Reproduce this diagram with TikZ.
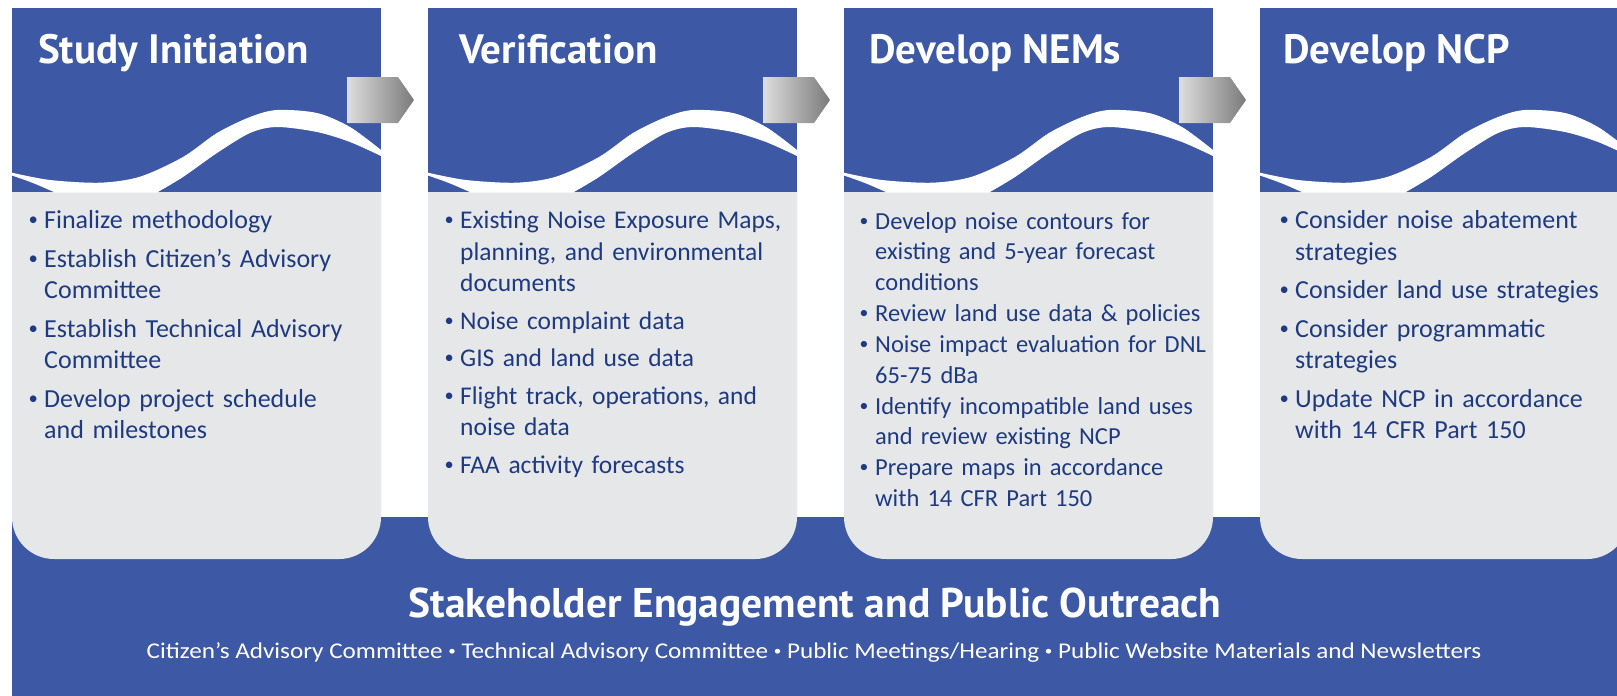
\documentclass[tikz,border=0pt]{standalone}
\usepackage{fontspec}
\setmainfont{Carlito}
\newfontfamily\titlefont{PT Sans}
\definecolor{pblue}{RGB}{61,88,164}
\definecolor{pgray}{RGB}{230,231,233}
\definecolor{ptext}{RGB}{30,58,128}
\newcommand\nl{\newline}
\newcommand\bitem[1]{\par\hangindent=15pt\hangafter=1\noindent\makebox[15pt][l]{\hspace{-0.5pt}\raisebox{0.12em}{\scalebox{0.72}{\textbullet}}}\strut#1\par}
\begin{document}
\begin{tikzpicture}[x=1pt,y=-1pt,
  titlestyle/.style={anchor=base west, inner sep=0pt, text=white, font=\titlefont\bfseries\fontsize{41}{41}\selectfont},
  bodystyle/.style={anchor=north west, inner sep=0pt, text=ptext, text width=400pt, font=\fontsize{26}{31.5}\selectfont},
  midbody/.style={bodystyle, font=\fontsize{25.5}{31.5}\selectfont},
  tightbody/.style={bodystyle, font=\fontsize{24.5}{30.3}\selectfont},
  arrowshape/.style={left color=black!13, right color=black!52, draw=none},
  wavefill/.style={fill=white, draw=none},
  panelblue/.style={fill=pblue, draw=none},
  panelgray/.style={fill=pgray, draw=none, rounded corners=42pt}]
\clip (0,0) rectangle (1617,696);
\fill[white] (0,0) rectangle (1617,696);
% bottom band
\fill[pblue] (12,517) rectangle (1617,696);
% panels
\foreach \px in {12,428,844,1260}{
  \begin{scope}[xshift=\px pt]
    \path[panelgray] (0,150) -- (0,559) -- (369,559) -- (369,150);
    \fill[pgray] (0,150) rectangle (369,300);
    \path[panelblue] (0,8) rectangle (369,192);
    \path[wavefill] plot[smooth] coordinates {(0,172.7) (38,180) (88,182.7) (128,176.7) (171,157) (205,133) (238,117) (265,110) (305,113) (338,127) (369,150)}
      -- plot[smooth] coordinates {(369,156) (338,142) (305,132) (265,127) (238,133) (205,153) (171,177) (145,192.5)}
      -- (43,192.5) -- plot[smooth] coordinates {(43,192.5) (21,183) (0,175.5)} -- cycle;
  \end{scope}
}
% arrows
\foreach \ax in {0,416,832}{
  \begin{scope}[xshift=\ax pt]
    \path[arrowshape] (347,77) -- (398,77) -- (414,100) -- (398,123) -- (347,123) -- cycle;
  \end{scope}
}
% titles
\node[titlestyle] (t1) at (38,63) {Study Initiation};
\node[titlestyle] (t2) at (459,63) {Verification};
\node[titlestyle] (t3) at (869,63) {Develop NEMs};
\node[titlestyle] (t4) at (1283,63) {Develop NCP};
% bodies
\node[bodystyle] (b1) at (29,197) {%
\bitem{Finalize methodology}\vspace{7pt}
\bitem{Establish Citizen’s Advisory\nl Committee}\vspace{7pt}
\bitem{Establish Technical Advisory\nl Committee}\vspace{7pt}
\bitem{Develop project schedule\nl and milestones}};
\node[midbody] (b2) at (445,197) {%
\bitem{Existing Noise Exposure Maps,\nl planning, and environmental\nl documents}\vspace{6pt}
\bitem{Noise complaint data}\vspace{6pt}
\bitem{GIS and land use data}\vspace{6pt}
\bitem{Flight track, operations, and\nl noise data}\vspace{6pt}
\bitem{FAA activity forecasts}};
\node[tightbody] (b3) at (860,199) {%
\bitem{Develop noise contours for\nl existing and 5-year forecast\nl conditions}\vspace{1pt}
\bitem{Review land use data \& policies}\vspace{1pt}
\bitem{Noise impact evaluation for DNL\nl 65-75 dBa}\vspace{1pt}
\bitem{Identify incompatible land uses\nl and review existing NCP}\vspace{1pt}
\bitem{Prepare maps in accordance\nl with 14 CFR Part 150}};
\node[bodystyle] (b4) at (1280,197) {%
\bitem{Consider noise abatement\nl strategies}\vspace{7pt}
\bitem{Consider land use strategies}\vspace{7pt}
\bitem{Consider programmatic\nl strategies}\vspace{7pt}
\bitem{Update NCP in accordance\nl with 14 CFR Part 150}};
% bottom texts
\node[anchor=base, inner sep=0pt, text=white, font=\titlefont\bfseries\fontsize{41.5}{41.5}\selectfont] (st) at (815,617) {Stakeholder Engagement and Public Outreach};
\node[anchor=base, inner sep=0pt, text=white, font=\fontsize{22.5}{22.5}\selectfont] (ss) at (814,658) {\scalebox{1.118}[1]{Citizen’s Advisory Committee \raisebox{0.1em}{\scalebox{0.6}{\textbullet}} Technical Advisory Committee \raisebox{0.1em}{\scalebox{0.6}{\textbullet}} Public Meetings/Hearing \raisebox{0.1em}{\scalebox{0.6}{\textbullet}} Public Website Materials and Newsletters}};
\end{tikzpicture}
\end{document}
